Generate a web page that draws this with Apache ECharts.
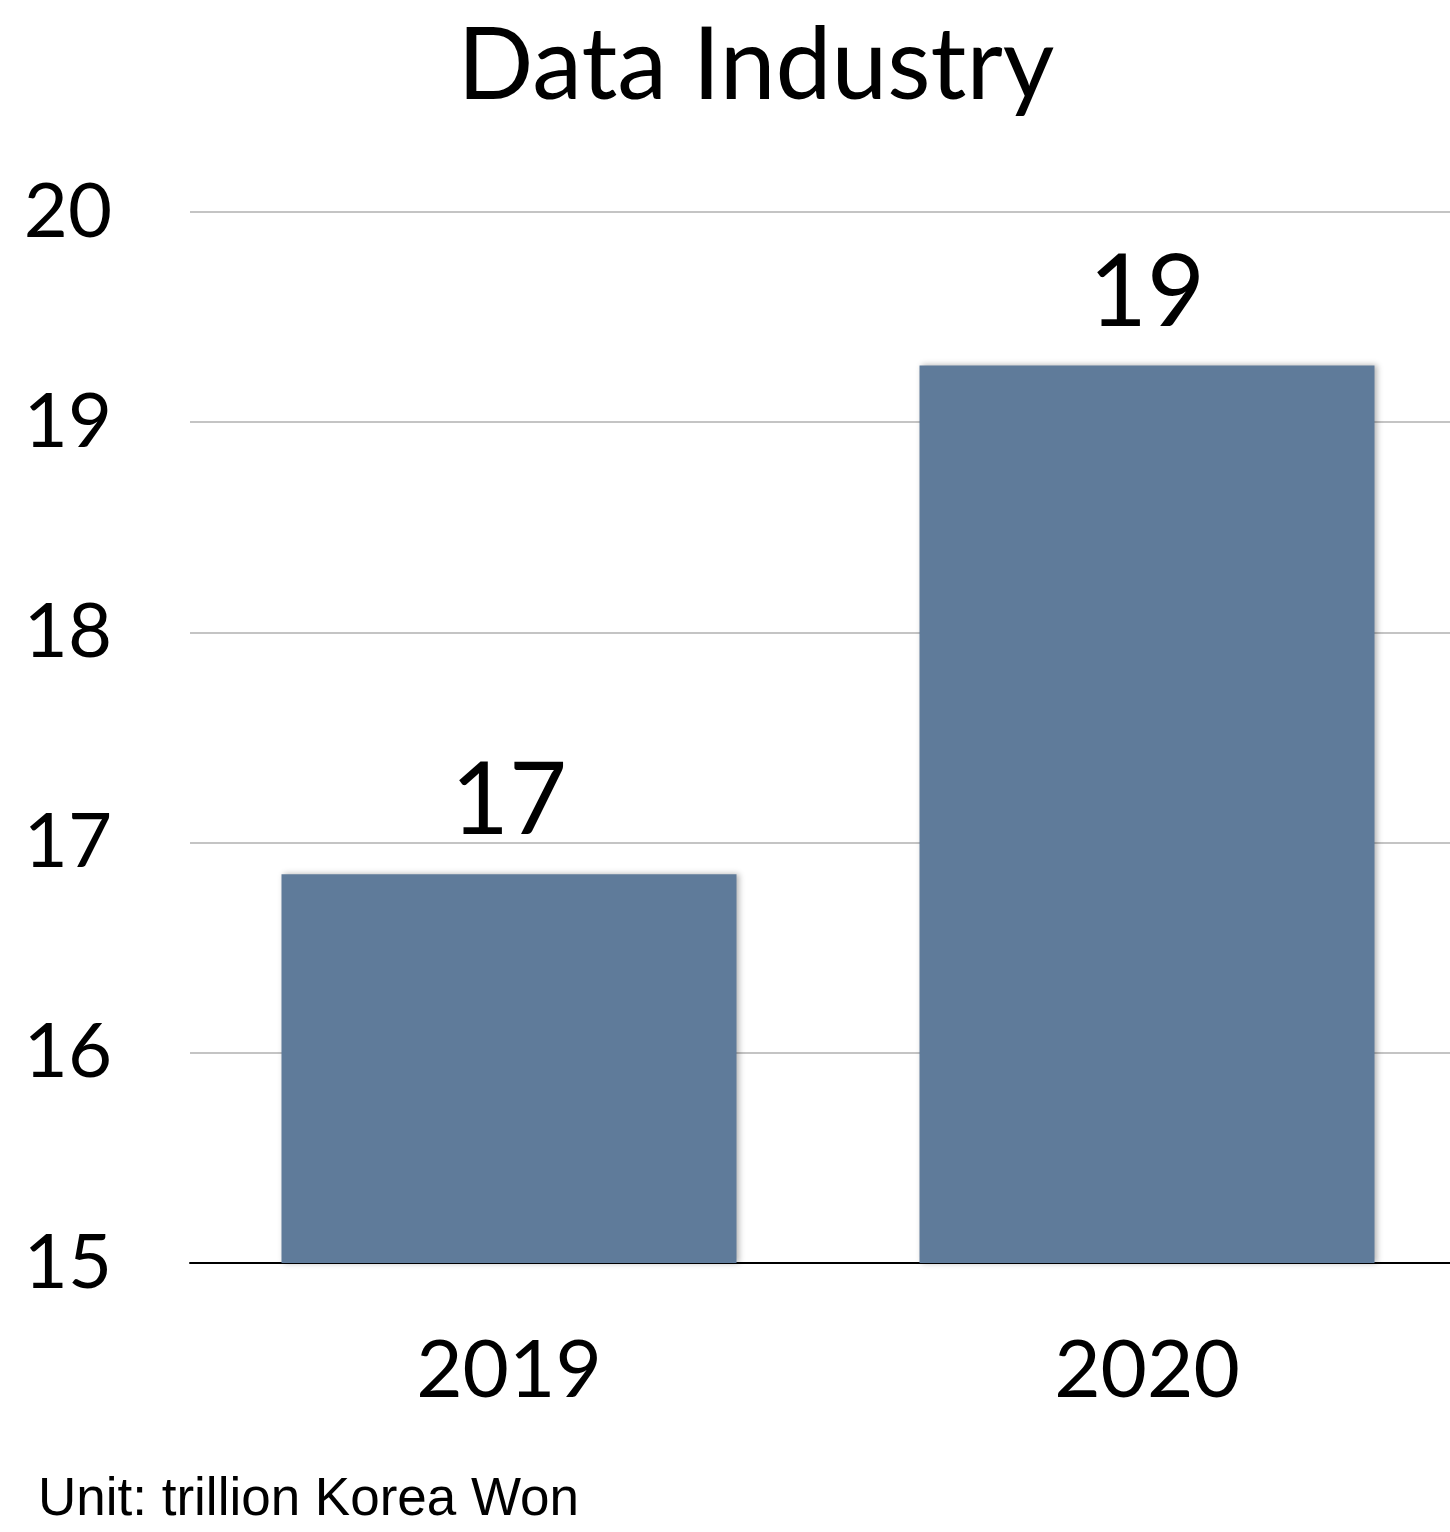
<!DOCTYPE html>
<html><head><meta charset="utf-8">
<script src="https://cdn.jsdelivr.net/npm/echarts@6/dist/echarts.min.js"></script>
<style>html,body{margin:0;padding:0;background:#fff}#c{width:1450px;height:1532px}</style>
</head><body><div id="c"></div>
<script>
var categories = ['2019', '2020'];
var values = [16.85, 19.27];
var valueLabels = ['17', '19'];
var yTicks = [15, 16, 17, 18, 19, 20];

var chart = echarts.init(document.getElementById('c'));
var F = 'Lato, "Open Sans", sans-serif';
chart.setOption({
  animation: false,
  graphic: [{
    type: 'text', x: 756, y: 17,
    style: { text: 'Data Industry', font: '100px Lato, "Open Sans", sans-serif', fill: '#000', textAlign: 'center', textVerticalAlign: 'top' }
  }, {
    type: 'text', left: 38, top: 1474,
    style: { text: 'Unit: trillion Korea Won', font: '53px "Liberation Sans", Arial, sans-serif', fill: '#000' }
  }],
  grid: { left: 190, width: 1276, top: 212, bottom: 1532 - 1263, outerBoundsMode: 'none', containLabel: false },
  xAxis: {
    type: 'category', data: categories,
    axisLine: { lineStyle: { color: '#000', width: 2 } },
    axisTick: { show: false },
    axisLabel: { fontFamily: F, fontSize: 80, color: '#000', margin: 68 }
  },
  yAxis: {
    type: 'value', min: 15, max: 20, interval: 1,
    axisLine: { show: false }, axisTick: { show: false },
    splitLine: { lineStyle: { color: '#c4c4c4', width: 2 } },
    axisLabel: { fontFamily: F, fontSize: 76, color: '#000', margin: 78,
      formatter: function (v) { return yTicks.indexOf(v) >= 0 ? String(v) : ''; } }
  },
  series: [{
    type: 'bar', data: values, barWidth: 455,
    itemStyle: { color: '#5f7b9a', shadowColor: 'rgba(0,0,0,0.3)', shadowBlur: 6, shadowOffsetX: 2, shadowOffsetY: 0 },
    label: { show: true, position: 'top', distance: 22, fontFamily: F, fontSize: 100, color: '#000',
      formatter: function (p) { return valueLabels[p.dataIndex]; } }
  }]
});
</script></body></html>
